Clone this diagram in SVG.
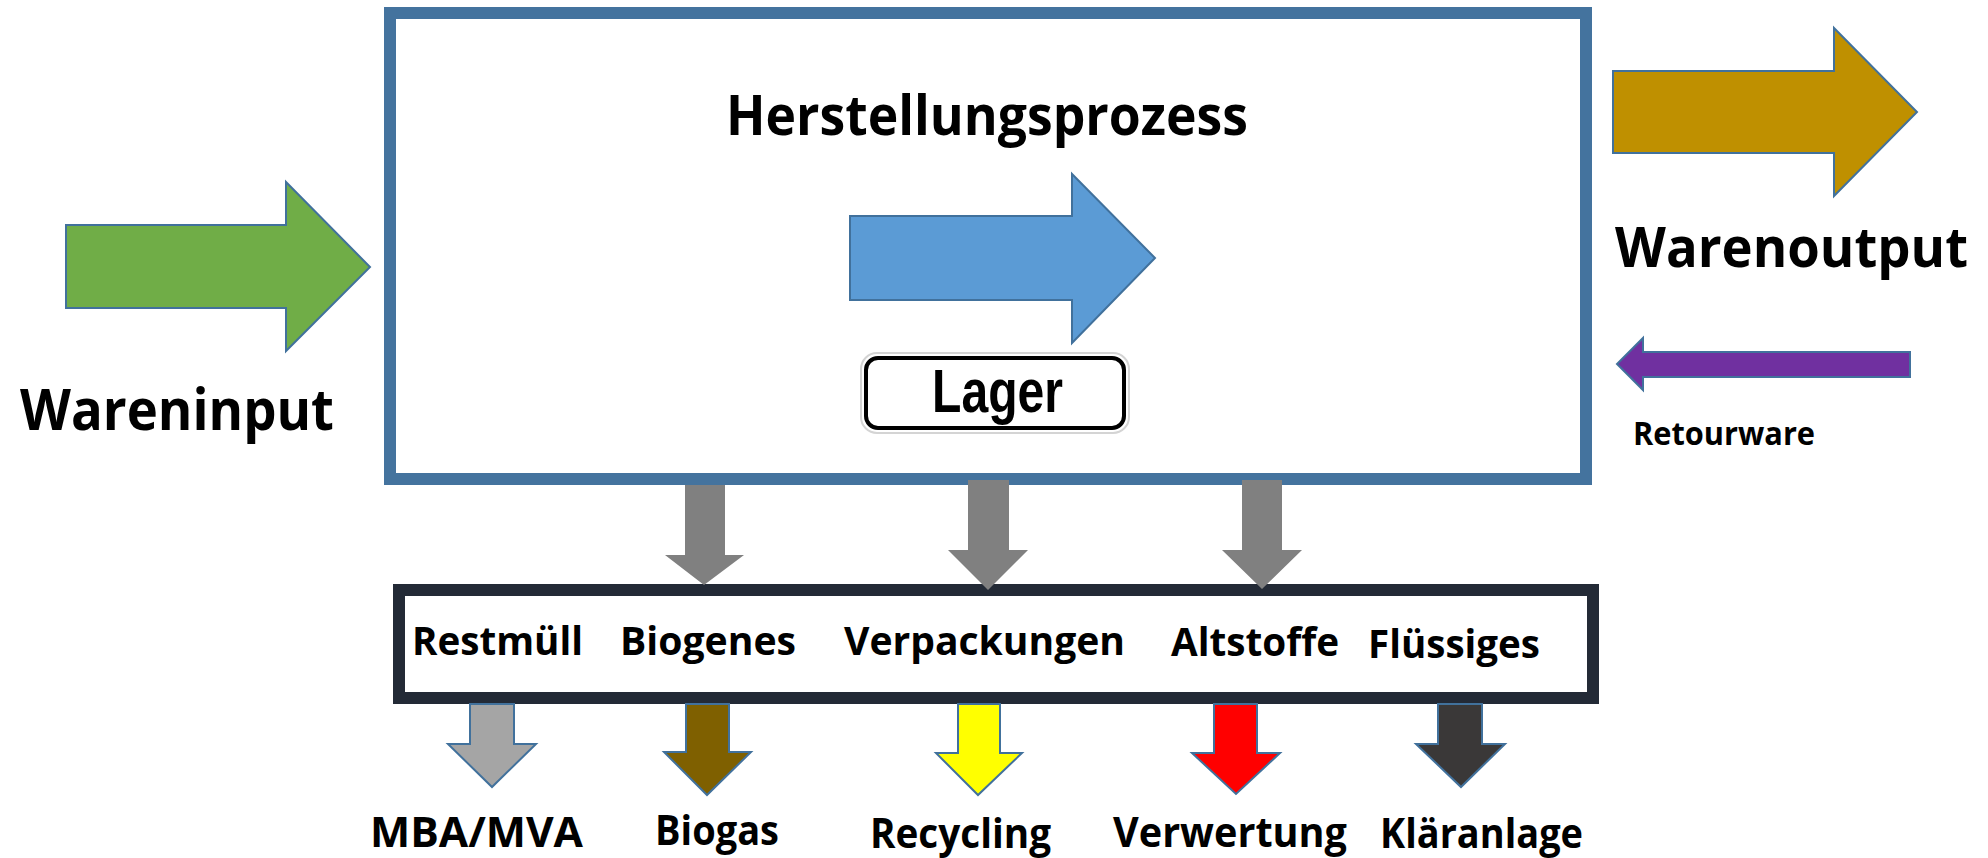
<svg xmlns="http://www.w3.org/2000/svg" width="1988" height="858" viewBox="0 0 1988 858">
<style>
text { font-family: "Open Sans", "Liberation Sans", sans-serif; font-weight: 700; fill: #000; }
.big { font-size: 56px; }
.mid { font-size: 40px; }
.low { font-size: 41px; }
.small { font-size: 32px; }
.arr { stroke: #41719C; stroke-width: 2; stroke-linejoin: miter; }
.grey { fill: #808080; }
</style>
<rect width="1988" height="858" fill="#ffffff"/>

<g id="herstellung">
<rect x="390" y="13" width="1196" height="466" fill="#ffffff" stroke="#44739E" stroke-width="12"/>
<text class="big" x="726" y="135" textLength="522" lengthAdjust="spacingAndGlyphs">Herstellungsprozess</text>
</g>

<g id="lager">
<rect x="861" y="353" width="268" height="80" rx="16" fill="#ffffff" stroke="#d4d4d4" stroke-width="2"/>
<rect x="866" y="358" width="258" height="70" rx="12" fill="#ffffff" stroke="#000000" stroke-width="4"/>
<text x="932" y="412" font-size="61" textLength="131" lengthAdjust="spacingAndGlyphs" style="font-family:'Liberation Sans', Arial, sans-serif">Lager</text>
</g>

<g id="wareninput">
<text class="big" x="20" y="430" style="font-size:58px" textLength="314" lengthAdjust="spacingAndGlyphs">Wareninput</text>
</g>

<g id="warenoutput">
<text class="big" x="1615" y="267" textLength="353" lengthAdjust="spacingAndGlyphs">Warenoutput</text>
</g>

<g id="retourware">
<text class="small" x="1633" y="445" textLength="182" lengthAdjust="spacingAndGlyphs">Retourware</text>
</g>

<g id="abfall">
<rect x="399" y="590" width="1194" height="108" fill="#ffffff" stroke="#232A36" stroke-width="12"/>
<text class="mid" x="412" y="655" textLength="171" lengthAdjust="spacingAndGlyphs">Restmüll</text>
<text class="mid" x="620" y="655" textLength="176" lengthAdjust="spacingAndGlyphs">Biogenes</text>
<text class="mid" x="844" y="655" textLength="281" lengthAdjust="spacingAndGlyphs">Verpackungen</text>
<text class="mid" x="1171" y="656" textLength="168" lengthAdjust="spacingAndGlyphs">Altstoffe</text>
<text class="mid" x="1368" y="658" textLength="172" lengthAdjust="spacingAndGlyphs">Flüssiges</text>
</g>

<g id="ziel-mba"><text class="low" x="370" y="847" textLength="213" lengthAdjust="spacingAndGlyphs">MBA/MVA</text></g>
<g id="ziel-biogas"><text class="low" x="655" y="845" textLength="124" lengthAdjust="spacingAndGlyphs">Biogas</text></g>
<g id="ziel-recycling"><text class="low" x="870" y="848" textLength="181" lengthAdjust="spacingAndGlyphs">Recycling</text></g>
<g id="ziel-verwertung"><text class="low" x="1113" y="847" textLength="234" lengthAdjust="spacingAndGlyphs">Verwertung</text></g>
<g id="ziel-klaeranlage"><text class="low" x="1380" y="848" textLength="203" lengthAdjust="spacingAndGlyphs">Kläranlage</text></g>

<g id="connectors">
<polygon class="arr" fill="#70AD47" points="66,225 286,225 286,182 370,267 286,351 286,308 66,308"/>
<polygon class="arr" fill="#5B9BD5" points="850,216 1072,216 1072,174 1155,258 1072,343 1072,300 850,300"/>
<polygon class="arr" fill="#BF9000" points="1613,71 1834,71 1834,28 1917,112 1834,196 1834,153 1613,153"/>
<polygon class="arr" fill="#7030A0" points="1910,352 1643,352 1643,338 1617,364 1643,390 1643,377 1910,377"/>
<polygon class="grey" points="685,485 725,485 725,555 744,555 704,585 665,555 685,555"/>
<polygon class="grey" points="968,480 1009,480 1009,550 1028,550 988,590 948,550 968,550"/>
<polygon class="grey" points="1242,480 1282,480 1282,550 1302,550 1262,589 1222,550 1242,550"/>
<polygon class="arr" fill="#A5A5A5" points="470,704 514,704 514,744 536,744 492,787 448,744 470,744"/>
<polygon class="arr" fill="#7F6000" points="686,704 729,704 729,752 751,752 707,795 664,752 686,752"/>
<polygon class="arr" fill="#FFFF00" points="958,704 1000,704 1000,753 1022,753 978,795 936,753 958,753"/>
<polygon class="arr" fill="#FF0000" points="1214,704 1257,704 1257,753 1280,753 1236,794 1192,753 1214,753"/>
<polygon class="arr" fill="#3A3838" points="1438,704 1482,704 1482,744 1505,744 1461,787 1416,744 1438,744"/>
</g>
</svg>
